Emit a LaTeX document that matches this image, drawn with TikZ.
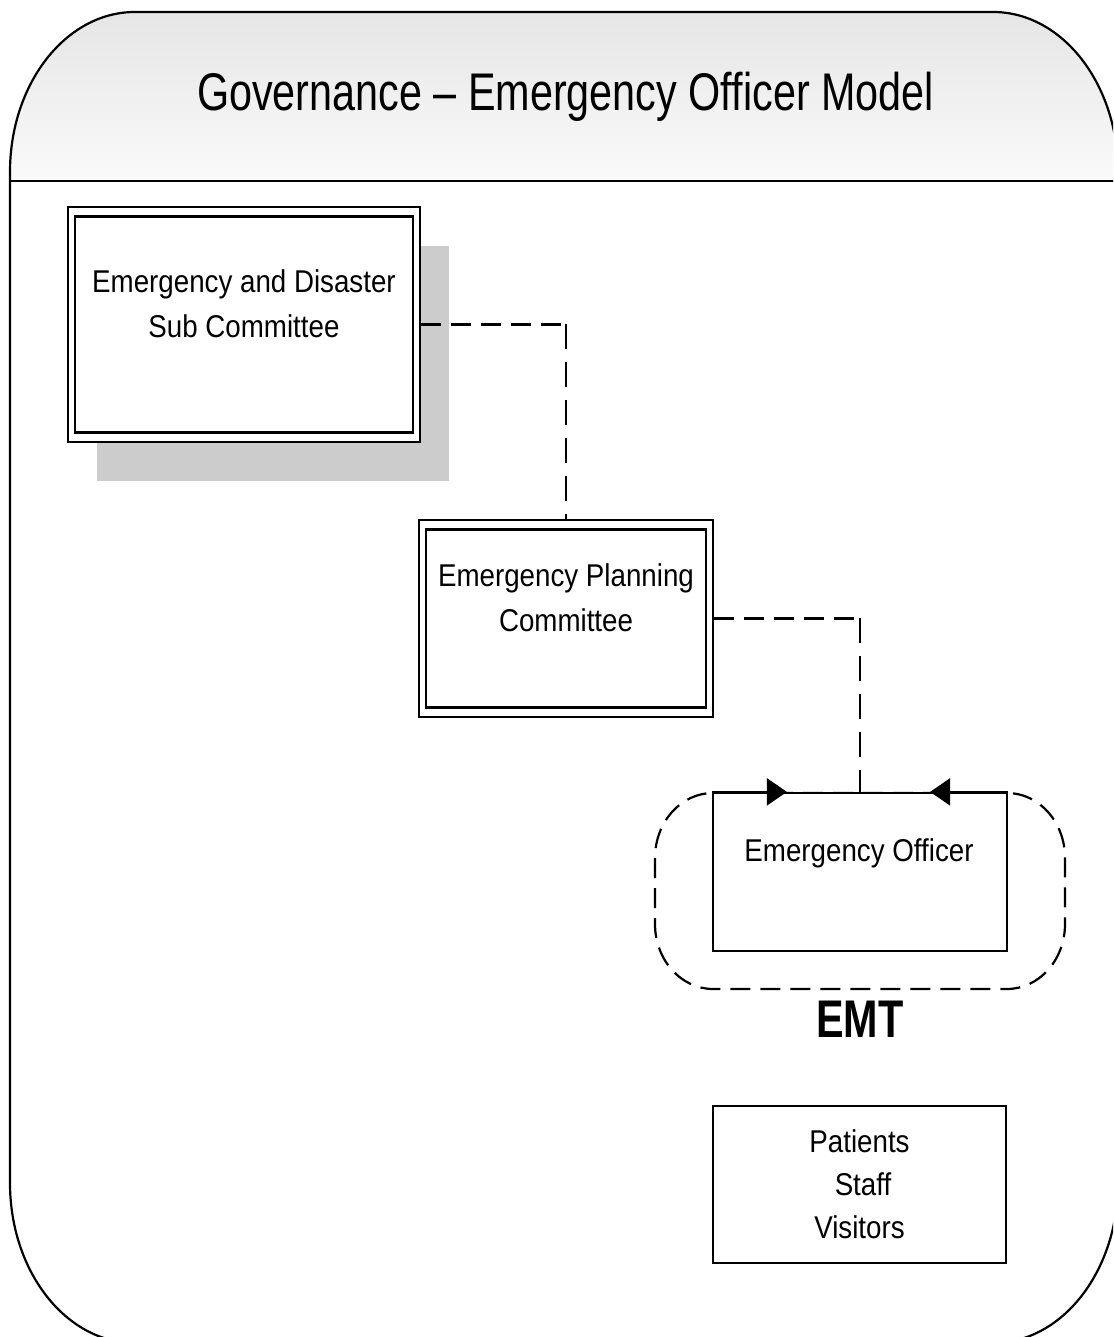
\documentclass[tikz,border=0pt]{standalone}
\usepackage{fontspec}
\setmainfont{Liberation Sans}
\newfontfamily\boxfont{Liberation Sans}[FakeStretch=0.88]
\newfontfamily\headfont{Liberation Sans}[FakeStretch=0.78]
\usetikzlibrary{arrows.meta,calc,shadows}
\definecolor{hdtop}{RGB}{229,229,229}
\definecolor{hdbot}{RGB}{250,250,250}
\definecolor{shadowgray}{RGB}{204,204,204}
\begin{document}
\begin{tikzpicture}[x=1pt,y=1pt,line width=2.2pt,
  boxtext/.style={inner sep=0pt,align=center,
    font={\boxfont\fontsize{31.5pt}{45pt}\selectfont}},
  headtext/.style={inner sep=0pt,
    font={\headfont\fontsize{53pt}{60pt}\selectfont}},
  plainbox/.style={draw,fill=white,inner sep=0pt},
  dblbox/.style={plainbox,
    path picture={\draw[line width=2.2pt]
      ($(path picture bounding box.south west)+(7pt,9.5pt)$) rectangle
      ($(path picture bounding box.north east)+(-7pt,-9.5pt)$);}},
  hdash/.style={dash pattern=on 20pt off 10pt},
  vdash/.style={dash pattern=on 25pt off 13pt},
  grouptip/.style={-{Triangle[length=20pt,width=27pt]}}]

\useasboundingbox (0,0) rectangle (1113,1337);
\clip (0,0) rectangle (1113,1337);

% outer frame with elliptical corners
\def\outerframe{(135,1325) -- (993,1325)
  arc[start angle=90,end angle=0,x radius=125,y radius=160]
  -- (1118,154)
  arc[start angle=0,end angle=-90,x radius=125,y radius=160]
  -- (135,-6)
  arc[start angle=270,end angle=180,x radius=125,y radius=160]
  -- (10,1165)
  arc[start angle=180,end angle=90,x radius=125,y radius=160]
  -- cycle}

\begin{scope}
  \clip \outerframe;
  \shade[top color=hdtop,bottom color=hdbot,draw=none]
    (0,1156) rectangle (1130,1330);
\end{scope}
\draw \outerframe;
\draw (10,1156) -- (1118,1156);

\node[headtext,anchor=base] (title) at (565.5,1226)
  {Governance – Emergency Officer Model};

% committees
\node[dblbox,minimum width=352pt,minimum height=235pt,
  drop shadow={shadow xshift=29pt,shadow yshift=-39pt,
    fill=shadowgray,opacity=1}] (b1) at (244,1012.5) {};
\node[boxtext,anchor=north] (b1txt) at (244,1068)
  {Emergency and Disaster\\Sub Committee};

\node[dblbox,minimum width=294pt,minimum height=197pt] (b2) at (566,718.5) {};
\node[boxtext,anchor=north] (b2txt) at (566,774)
  {Emergency Planning\\Committee};

% EMT group outline
\draw[hdash] (713,544) -- (1007,544)
  arc[start angle=90,end angle=0,x radius=58,y radius=65]
  -- (1065,413)
  arc[start angle=0,end angle=-90,x radius=58,y radius=65]
  -- (713,348)
  arc[start angle=270,end angle=180,x radius=58,y radius=65]
  -- (655,479)
  arc[start angle=180,end angle=90,x radius=58,y radius=65];

\node[plainbox,minimum width=294pt,minimum height=158pt] (eo) at (860,465) {};
\node[boxtext,anchor=north] (eotxt) at (859,499) {Emergency Officer};
\draw[grouptip] (eo.north west) -- ($(eo.north west)+(75,0)$);
\draw[grouptip] (eo.north east) -- ($(eo.north east)+(-78,0)$);

\node[headtext,font={\headfont\bfseries\fontsize{53pt}{60pt}\selectfont},
  anchor=base] (emt) at (860,299) {EMT};

\node[plainbox,boxtext,inner sep=0pt,minimum width=293pt,minimum height=157pt,
  font={\boxfont\fontsize{31.5pt}{43pt}\selectfont}] (pt) at (859.5,152.5)
  {Patients\\\hspace{7pt}Staff\\Visitors};

% reporting lines
\coordinate (k1) at (b1.east -| b2.north);
\draw[hdash] (b1.east) -- (k1);
\draw[vdash] (k1) -- (b2.north);
\coordinate (k2) at (b2.east -| eo.north);
\draw[hdash] (b2.east) -- (k2);
\draw[vdash] (k2) -- (eo.north);
\end{tikzpicture}
\end{document}
